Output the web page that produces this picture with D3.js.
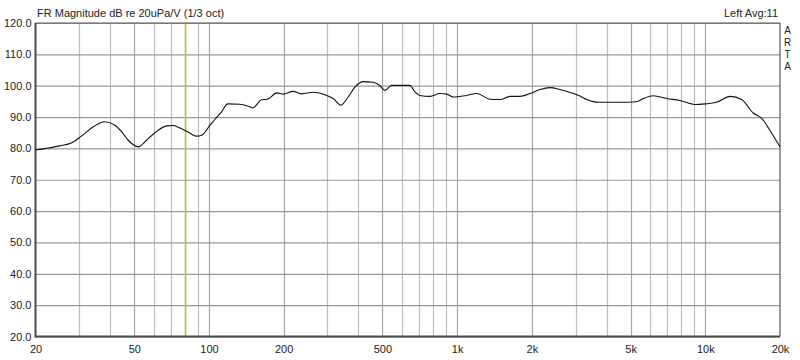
<!DOCTYPE html>
<html>
<head>
<meta charset="utf-8">
<script src="https://cdn.jsdelivr.net/npm/d3@7"></script>
<style>
	body { margin: 0; background: #fff; }
	svg { display: block; font-family: "Liberation Sans", Arial, sans-serif; }
</style>
</head>
<body>
<div id="chart"></div>
<script>
// response curve (1/3 oct smoothed)
const freqs = [20, 22, 25, 28, 30.7, 34.2, 38, 41.8, 44.5, 47.3, 52, 56, 60.6, 67.6, 71.8, 76, 81.3, 89, 93.5,
	101, 105.7, 112, 119, 133, 146, 150, 163, 172, 188, 199, 218, 236, 263, 298, 317, 340, 364, 388, 419, 459,
	489, 512, 545, 589, 645, 676, 708, 778, 853, 908, 965, 1093, 1200, 1356, 1489, 1633, 1791, 1968, 2158, 2367,
	2596, 2895, 3127, 3329, 3710, 4530, 5290, 5625, 6173, 6990, 7910, 9090, 9975, 11100, 12600, 14000, 15600,
	16900, 18200, 20000];
const magnitude = [79.5, 80.0, 80.8, 81.8, 84.0, 86.9, 88.5, 87.4, 85.3, 82.6, 80.5, 82.6, 85.0, 87.2, 87.3, 86.6, 85.5, 83.9, 84.2,
	87.4, 89.3, 91.5, 94.2, 94.1, 93.3, 92.9, 95.5, 95.7, 97.7, 97.3, 98.2, 97.4, 97.9, 96.9, 95.9, 93.8, 96.4, 99.6, 101.3, 101.1,
	100.0, 98.5, 100.1, 100.1, 100.1, 98.0, 96.9, 96.6, 97.5, 97.3, 96.4, 96.9, 97.5, 95.7, 95.6, 96.6, 96.6, 97.5, 98.8, 99.4,
	98.8, 97.7, 96.7, 95.6, 94.7, 94.7, 94.9, 95.9, 96.8, 95.9, 95.3, 94.0, 94.2, 94.7, 96.6, 95.6, 91.3,
	89.5, 85.8, 80.5];

const yTicks = [20, 30, 40, 50, 60, 70, 80, 90, 100, 110, 120];
const xLabelFreqs = [20, 50, 100, 200, 500, 1000, 2000, 5000, 10000, 20000];
const xLabels = ['20', '50', '100', '200', '500', '1k', '2k', '5k', '10k', '20k'];
const xMinorFreqs = [30, 40, 60, 70, 80, 90, 300, 400, 600, 700, 800, 900,
	3000, 4000, 6000, 7000, 8000, 9000];
const markerFreq = 80.5;

const width = 800, height = 360;
const margin = { top: 23, left: 35.5, right: 20, bottom: 23.5 };

let svg = d3.select('#chart').append('svg')
	.attr('width', width)
	.attr('height', height);

let xScale = d3.scaleLog()
	.domain([20, 20000])
	.range([margin.left, width - margin.right]);
let yScale = d3.scaleLinear()
	.domain([20, 120])
	.range([height - margin.bottom, margin.top]);

// vertical grid
svg.append('g').selectAll('line')
	.data(xMinorFreqs.concat(xLabelFreqs.slice(1, -1)))
	.enter().append('line')
	.attr('x1', d => Math.round(xScale(d)) + 0.5)
	.attr('x2', d => Math.round(xScale(d)) + 0.5)
	.attr('y1', yScale(120))
	.attr('y2', yScale(20))
	.attr('stroke', d => xLabelFreqs.includes(d) ? '#a6a6a6' : '#bdbdbd')
	.attr('stroke-width', 1.2);

// y axis + horizontal grid
let yAxis = d3.axisLeft(yScale)
	.tickValues(yTicks)
	.tickFormat(d3.format('.1f'))
	.tickSize(-(width - margin.left - margin.right))
	.tickPadding(4);
let gY = svg.append('g')
	.attr('transform', `translate(${margin.left},0)`)
	.call(yAxis);
gY.select('.domain').remove();
gY.selectAll('line').attr('stroke', '#999').attr('stroke-width', 1.2);
gY.selectAll('text')
	.attr('font-size', '11px')
	.attr('fill', '#222')
	.attr('font-family', '"Liberation Sans", Arial, sans-serif');

// x axis labels
let xAxis = d3.axisBottom(xScale)
	.tickValues(xLabelFreqs)
	.tickFormat((d, i) => xLabels[i])
	.tickSize(0)
	.tickPadding(9);
let gX = svg.append('g')
	.attr('transform', `translate(0,${height - margin.bottom})`)
	.call(xAxis);
gX.select('.domain').remove();
gX.selectAll('text')
	.attr('font-size', '11px')
	.attr('fill', '#222')
	.attr('font-family', '"Liberation Sans", Arial, sans-serif');

// marker
svg.append('line')
	.attr('x1', xScale(markerFreq))
	.attr('x2', xScale(markerFreq))
	.attr('y1', yScale(120))
	.attr('y2', yScale(20))
	.attr('stroke', '#bcbd3a')
	.attr('stroke-width', 1.6);

// frame
let x0 = xScale(20), x1 = xScale(20000), yT = yScale(120), yB = yScale(20);
svg.append('path')
	.attr('d', `M${x0},${yT}H${x1}V${yB}`)
	.attr('fill', 'none')
	.attr('stroke', '#5a5a5a')
	.attr('stroke-width', 1.2);
svg.append('path')
	.attr('d', `M${x0},${yT}V${yB}H${x1}`)
	.attr('fill', 'none')
	.attr('stroke', '#4a4a4a')
	.attr('stroke-width', 2);

// curve
let line = d3.line()
	.x(d => xScale(d[0]))
	.y(d => yScale(d[1]))
	.curve(d3.curveMonotoneX);
svg.append('path')
	.datum(d3.zip(freqs, magnitude))
	.attr('d', line)
	.attr('fill', 'none')
	.attr('stroke', '#111')
	.attr('stroke-width', 1.1);

// texts
svg.append('text')
	.attr('x', 37)
	.attr('y', 17)
	.attr('font-size', '11px')
	.attr('fill', '#222')
	.text('FR Magnitude dB re 20uPa/V (1/3 oct)');
svg.append('text')
	.attr('x', 778)
	.attr('y', 17)
	.attr('text-anchor', 'end')
	.attr('font-size', '11px')
	.attr('fill', '#222')
	.text('Left  Avg:11');
svg.append('g').selectAll('text')
	.data(['A', 'R', 'T', 'A'])
	.enter().append('text')
	.attr('x', 787.5)
	.attr('y', (d, i) => 33.5 + i * 12)
	.attr('text-anchor', 'middle')
	.attr('font-size', '10px')
	.attr('fill', '#222')
	.text(d => d);
</script>
</body>
</html>
